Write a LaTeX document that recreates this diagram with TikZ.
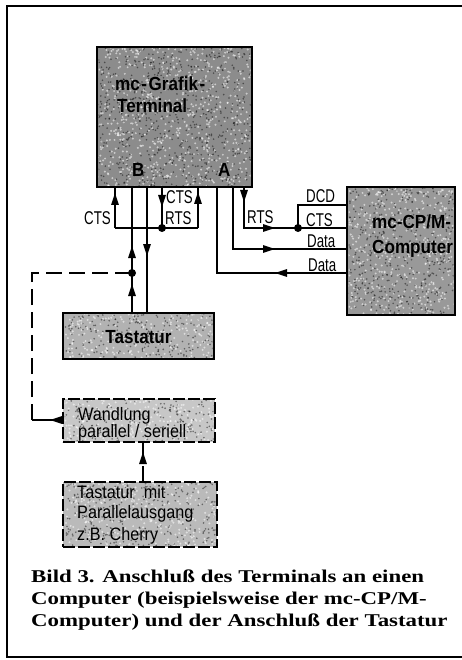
\documentclass[tikz,border=0pt]{standalone}
\usepackage{fontspec}
\setmainfont{Liberation Sans}
\newfontfamily\labf[FakeStretch=0.72]{Liberation Sans}
\newfontfamily\boxf[FakeStretch=0.9]{Liberation Sans}
\newfontfamily\capf[FakeStretch=1.27]{Liberation Serif}
\usetikzlibrary{arrows.meta,decorations.markings}
\tikzset{
  wire/.style={line width=1.6pt},
  dline/.style={line width=1.6pt, dash pattern=on 16pt off 7pt},
  blk/.style={draw, line width=1.6pt, inner sep=0pt, outer sep=0pt},
  dblk/.style={blk, dash pattern=on 12pt off 3pt},
  marr/.style={postaction={decorate,decoration={markings,
      mark=at position #1 with {\arrow{Triangle[length=12pt,width=7.5pt]}}}}},
  marrtwo/.style 2 args={postaction={decorate,decoration={markings,
      mark=at position #1 with {\arrow{Triangle[length=12pt,width=7.5pt]}},
      mark=at position #2 with {\arrow{Triangle[length=12pt,width=7.5pt]}}}}},
  lab/.style={font=\labf\fontsize{18.5}{18.5}\selectfont, inner sep=0pt},
  bigtxt/.style={font=\boxf\bfseries\fontsize{19}{19}\selectfont, inner sep=0pt, anchor=base west},
  smalltxt/.style={font=\boxf\fontsize{18}{18}\selectfont, inner sep=0pt, anchor=base west},
  captxt/.style={font=\capf\bfseries\fontsize{18}{18}\selectfont, inner sep=0pt, anchor=base west},
  jdot/.style={circle, fill, inner sep=0pt, minimum size=8pt},
}
% speckled halftone texture: cx, cy, w, h, count
\newcommand\mkspeck[5]{%
  \begin{scope}
    \clip ({#1-#3/2+1.5},{#2-#4/2+1.5}) rectangle ({#1+#3/2-1.5},{#2+#4/2-1.5});
    \foreach \i in {1,...,#5}{%
      \fill[white, opacity=0.55] ({#1+#3*(rnd-0.5)},{#2+#4*(rnd-0.5)}) circle (1.1);
      \fill[black, opacity=0.45] ({#1+#3*(rnd-0.5)},{#2+#4*(rnd-0.5)}) circle (0.9);
    }
  \end{scope}}
\begin{document}
\begin{tikzpicture}[x=1pt,y=-1pt]
\pgfmathsetseed{7}
\useasboundingbox (0,0) rectangle (462,660);
% frame
\draw[line width=2.2pt] (7,657) -- (7,6) -- (462,6);
\draw[line width=2.6pt] (6,657) -- (462,657);

% blocks
\node[blk, fill=black!45, minimum width=155pt, minimum height=140pt] (term) at (174.5,117) {};
\node[blk, fill=black!40, minimum width=108pt, minimum height=128pt] (comp) at (401,251) {};
\node[blk, fill=black!30, minimum width=151pt, minimum height=46pt] (tast) at (138.5,336) {};
\node[dblk, fill=black!22, minimum width=152pt, minimum height=43pt] (wand) at (139,420.5) {};
\node[dblk, fill=black!27, minimum width=154pt, minimum height=65pt] (key) at (140,514.5) {};
\mkspeck{174.5}{117}{155}{140}{700}
\mkspeck{401}{251}{108}{128}{450}
\mkspeck{138.5}{336}{151}{46}{230}
\mkspeck{139}{420.5}{152}{43}{200}
\mkspeck{140}{514.5}{154}{65}{300}

% block texts
\node[bigtxt] (t1) at (115,91) {mc\kern1.5pt-\kern1.5pt Grafik\kern1.5pt-};
\node[bigtxt] (t2) at (117,113) {Terminal};
\node[bigtxt] (tB) at (132,177) {B};
\node[bigtxt] (tA) at (218,177) {A};
\node[bigtxt] (c1) at (372,228) {mc-CP/M-};
\node[bigtxt] (c2) at (372,253) {Computer};
\node[bigtxt, anchor=base] (ta) at (138.5,343) {Tastatur};
\node[smalltxt] (w1) at (78,420) {Wandlung};
\node[smalltxt] (w2) at (78,437) {parallel / seriell};
\node[smalltxt] (k1) at (77,498) {Tastatur\ \ mit};
\node[smalltxt] (k2) at (77,518) {Parallelausgang};
\node[smalltxt] (k3) at (77,540) {z.B. Cherry};

% junction coordinates
\coordinate (j1) at (115,228);
\coordinate (jR) at (198,228);
\coordinate (jd) at (162,228);
\coordinate (kd) at (132,273);
\coordinate (x147) at (147,250);
\coordinate (x143) at (143,460);
\coordinate (d1) at (32,273);
\coordinate (d2) at (32,420);
\coordinate (a1) at (217,273);
\coordinate (a2) at (233,249);
\coordinate (a3) at (244,228);
\coordinate (rd) at (298,228);
\coordinate (r2) at (298,205);

% port B wires
\draw[wire] (j1) -- (jR);
\draw[wire, marr=35pt] (j1) -- (term.south -| j1);
\draw[wire, marr=20pt] (term.south -| jd) -- (jd);
\draw[wire, marr=36pt] (jR) -- (term.south -| jR);
\draw[wire, marrtwo={29pt}{67pt}] (tast.north -| kd) -- (term.south -| kd);
\draw[wire, marr=69pt] (term.south -| x147) -- (tast.north -| x147);
\node[jdot] (dot1) at (jd) {};
\node[jdot] (dot2) at (kd) {};

% dashed keyboard path
\draw[wire, marr=13pt] (wand.west |- d2) -- (d2);
\draw[dline] (d2) -- (d1) -- (kd);
\draw[dline, marr=30pt] (key.north -| x143) -- (wand.south -| x143);

% port A wires
\draw[wire, marr=72pt] (comp.west |- a1) -- (a1) -- (term.south -| a1);
\draw[wire, marr=104pt] (term.south -| a2) -- (a2) -- (comp.west |- a2);
\draw[wire, marrtwo={15pt}{72pt}] (term.south -| a3) -- (a3) -- (comp.west |- a3);
\draw[wire] (rd) -- (r2) -- (comp.west |- r2);
\node[jdot] (dot3) at (rd) {};

% signal labels
\node[lab, anchor=base east] (l1) at (111,224) {CTS};
\node[lab, anchor=base west] (l2) at (166,204) {CTS};
\node[lab, anchor=base west] (l3) at (165,224) {RTS};
\node[lab, anchor=base west] (l4) at (247,223) {RTS};
\node[lab, anchor=base west] (l5) at (306,203) {DCD};
\node[lab, anchor=base west] (l6) at (306,226) {CTS};
\node[lab, anchor=base west] (l7) at (307,247) {Data};
\node[lab, anchor=base west] (l8) at (308,271) {Data};

% caption
\node[captxt] (cap1) at (31,582) {Bild 3. Anschluß des Terminals an einen};
\node[captxt] (cap2) at (31,604) {Computer (beispielsweise der mc-CP/M-};
\node[captxt] (cap3) at (31,626) {Computer) und der Anschluß der Tastatur};
\end{tikzpicture}
\end{document}
